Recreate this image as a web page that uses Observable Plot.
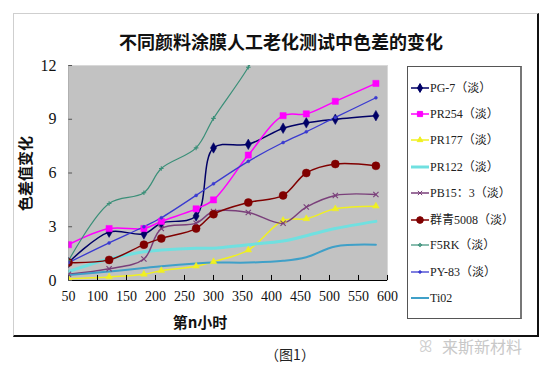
<!DOCTYPE html>
<html><head><meta charset="utf-8">
<script src="https://cdn.jsdelivr.net/npm/d3@7"></script>
<script src="https://cdn.jsdelivr.net/npm/@observablehq/plot@0.6"></script>
<style>
body{margin:0;background:#fff;}
#page{position:relative;width:547px;height:373px;background:#fff;overflow:hidden;font-family:"Liberation Serif","Noto Sans CJK SC",serif;}
.abs{position:absolute;}
</style>
</head><body>
<div id="page">
  <div class="abs" style="left:13px;top:13px;width:523px;height:321px;border-left:1px solid #cfcfcf;border-top:1px solid #cfcfcf;border-right:2px solid #111;border-bottom:2px solid #111;"></div>
  <div id="chart" class="abs" style="left:0;top:0;"></div>
  <div class="abs" style="left:13px;top:28px;width:536px;text-align:center;font:bold 18px 'Noto Sans CJK SC';color:#111;">不同颜料涂膜人工老化测试中色差的变化</div>
  <div class="abs" style="left:-26px;top:163px;width:100px;text-align:center;transform:rotate(-90deg);font:bold 15px 'Noto Sans CJK SC';color:#111;">色差值变化</div>
  <div class="abs" style="left:150px;top:311px;width:100px;text-align:center;font:bold 15px 'Noto Sans CJK SC';color:#111;">第n小时</div>
  <div id="legend" class="abs" style="left:407px;top:66px;width:112px;height:251px;border:1px solid #555;border-right:2px solid #777;background:#fff;"></div>
  <div class="abs" style="left:240px;top:344px;width:100px;text-align:center;font:14px 'Noto Sans CJK SC';color:#222;">（图1）</div>
  <div class="abs" style="left:442px;top:334px;font:16px 'Noto Sans CJK SC';color:#c8c8c8;">来斯新材料</div>
  <div class="abs" style="left:419px;top:333px;font:16px 'Noto Sans CJK SC';color:#cfcfcf;">ꕤ</div>
</div>
<script>
const hours = [50,120,180,210,270,300,360,420,460,510,580];
const xTicks = [50,100,150,200,250,300,350,400,450,500,550,600];
const yTicks = [0,3,6,9,12];
const names = ["PG-7（淡）","PR254（淡）","PR177（淡）","PR122（淡）","PB15：3（淡）","群青5008（淡）","F5RK（淡）","PY-83（淡）","Ti02"];
const pg7   = [1.0,2.7,2.6,3.2,3.6,7.4,7.6,8.5,8.8,9.0,9.2];
const pr254 = [2.0,2.9,2.9,3.3,4.0,4.5,7.0,9.2,9.3,10.0,11.0];
const pr177 = [0.1,0.2,0.35,0.55,0.8,1.05,1.7,3.35,3.45,4.0,4.15];
const pr122 = [0.5,1.2,1.6,1.7,1.8,1.8,2.0,2.2,2.5,2.9,3.3];
const pb153 = [0.35,0.65,1.2,2.9,3.2,3.85,3.8,3.2,4.1,4.75,4.8];
const ultra = [1.0,1.15,2.0,2.35,2.9,3.7,4.35,4.75,6.0,6.5,6.4];
const f5rk  = [1.1,4.3,4.9,6.25,7.4,9.05,11.9,15.5];
const py83  = [1.0,2.1,3.0,3.5,4.75,5.4,6.65,7.7,8.3,9.1,10.2];
const ti02  = [0.3,0.5,0.7,0.8,0.95,1.0,1.0,1.1,1.3,1.9,2.0];

const values = [pg7,pr254,pr177,pr122,pb153,ultra,f5rk,py83,ti02];
const colors = ["#000066","#ff00ff","#f0f020","#70e0e0","#7a3f7a","#800000","#3a8f78","#3a3ad0","#3fa0c8"];
const widths = [1.5,1.5,1.5,3,1.5,1.5,1.2,1.3,2];
const symbols = ["diamond","square","triangle",null,"times","circle","plus","circle",null];
const rVals = [3.2,3.5,2.5,0,2.5,4,1.6,1.5,0];

const rows = [];
values.forEach((arr,i)=>arr.forEach((v,j)=>rows.push({s:i,name:names[i],x:hours[j],y:v})));

const marks = [Plot.frame({fill:"#c2c2c2",stroke:"#d8d8d8"})];
names.forEach((n,i)=>{
  const d = rows.filter(r=>r.s===i);
  marks.push(Plot.line(d,{x:"x",y:"y",stroke:colors[i],strokeWidth:widths[i],curve:"catmull-rom",clip:true}));
});
names.forEach((n,i)=>{
  if(!symbols[i]) return;
  const d = rows.filter(r=>r.s===i);
  const filled = symbols[i]!=="times" && symbols[i]!=="plus";
  marks.push(Plot.dot(d,{x:"x",y:"y",symbol:()=>symbols[i],r:rVals[i],fill:filled?colors[i]:"none",stroke:colors[i],strokeWidth:filled?0.5:1.1,clip:true}));
});
marks.push(Plot.ruleY([0],{stroke:"#000",strokeWidth:1}));
marks.push(Plot.ruleX(xTicks,{y1:0,y2:0.28,stroke:"#000"}));
marks.push(Plot.ruleY(yTicks,{x1:50,x2:57,stroke:"#555"}));
marks.push(Plot.ruleX([50],{stroke:"#888",strokeWidth:0.5}));
marks.push(Plot.axisX(xTicks,{tickSize:0,tickPadding:11,fontSize:14,fill:"#111"}));
marks.push(Plot.axisY(yTicks,{tickSize:0,tickPadding:12,fontSize:16,fill:"#111"}));

const chart = Plot.plot({
  width:547,height:373,
  marginLeft:68,marginRight:160,marginTop:65,marginBottom:93,
  x:{domain:[50,600],label:null},
  y:{domain:[0,12],label:null},
  style:{background:"transparent",fontFamily:"Liberation Serif"},
  marks
});
document.getElementById("chart").appendChild(chart);

// legend
const lg = d3.select("#legend");
const ys = [21,47,73,100,126,153,178,205,231];
const svg = lg.append("svg").attr("width",112).attr("height",251).style("position","absolute").style("left",0).style("top",0);
names.forEach((n,i)=>{
  const y = ys[i];
  svg.append("line").attr("x1",3).attr("x2",21).attr("y1",y).attr("y2",y).attr("stroke",colors[i]).attr("stroke-width",widths[i]);
  if(symbols[i]){
    const map={diamond:d3.symbolDiamond,square:d3.symbolSquare,triangle:d3.symbolTriangle,times:d3.symbolTimes,circle:d3.symbolCircle,plus:d3.symbolCross};
    const filled = symbols[i]!=="times" && symbols[i]!=="plus";
    svg.append("path").attr("d",d3.symbol(map[symbols[i]],Math.PI*rVals[i]*rVals[i]*0.7)()).attr("transform",`translate(12,${y})`)
      .attr("fill",filled?colors[i]:"none").attr("stroke",colors[i]).attr("stroke-width",1);
  }
  svg.append("text").attr("x",22).attr("y",y).attr("dy","0.35em").attr("font-size",12)
    .attr("font-family","'Liberation Serif','Noto Sans CJK SC'").attr("fill","#222").text(n);
});
</script>
</body></html>
